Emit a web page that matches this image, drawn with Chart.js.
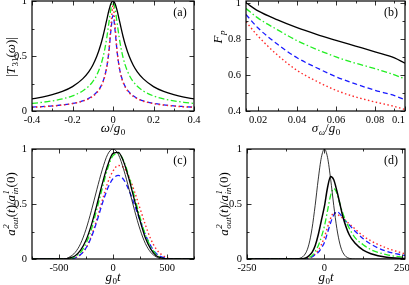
<!DOCTYPE html>
<html>
<head>
<meta charset="utf-8">
<script src="https://cdn.jsdelivr.net/npm/chart.js@4"></script>
<style>
  body { margin: 0; background: #fff; }
  #wrap { position: relative; width: 409px; height: 285px; }
  canvas { position: absolute; left: 0; top: 0; }
</style>
</head>
<body>
<div id="wrap">
  <canvas id="pa" width="409" height="285"></canvas>
  <canvas id="pb" width="409" height="285"></canvas>
  <canvas id="pc" width="409" height="285"></canvas>
  <canvas id="pd" width="409" height="285"></canvas>
</div>
<script>
// (a) |T31(w)| against w/g0
const omega = [-0.4, -0.35, -0.3, -0.25, -0.2, -0.15, -0.12, -0.1, -0.08, -0.06, -0.05, -0.04, -0.03, -0.02, -0.01, 0,
  0.01, 0.02, 0.03, 0.04, 0.05, 0.06, 0.08, 0.1, 0.12, 0.15, 0.2, 0.25, 0.3, 0.35, 0.4];
const tBlack = [0.11, 0.126, 0.148, 0.178, 0.222, 0.292, 0.356, 0.416, 0.497, 0.607, 0.675, 0.753, 0.836, 0.916, 0.977, 1.0,
  0.977, 0.916, 0.836, 0.753, 0.675, 0.607, 0.497, 0.416, 0.356, 0.292, 0.222, 0.178, 0.148, 0.126, 0.11];
const tGreen = [0.069, 0.079, 0.092, 0.110, 0.137, 0.182, 0.225, 0.267, 0.327, 0.419, 0.484, 0.568, 0.675, 0.806, 0.932, 0.99,
  0.932, 0.806, 0.675, 0.568, 0.484, 0.419, 0.327, 0.267, 0.225, 0.182, 0.137, 0.110, 0.092, 0.079, 0.069];
const tBlue = [0.035, 0.040, 0.046, 0.056, 0.069, 0.092, 0.115, 0.138, 0.171, 0.224, 0.265, 0.323, 0.409, 0.544, 0.738, 0.87,
  0.738, 0.544, 0.409, 0.323, 0.265, 0.224, 0.171, 0.138, 0.115, 0.092, 0.069, 0.056, 0.046, 0.040, 0.035];
const tRed = [0.034, 0.038, 0.045, 0.054, 0.067, 0.089, 0.111, 0.133, 0.165, 0.218, 0.259, 0.317, 0.406, 0.550, 0.781, 0.96,
  0.781, 0.550, 0.406, 0.317, 0.259, 0.218, 0.165, 0.133, 0.111, 0.089, 0.067, 0.054, 0.045, 0.038, 0.034];

// (b) Fp against sigma_w/g0 (the frame runs from about 0.014 to 0.095)
const sigma = [0.0138, 0.02, 0.03, 0.04, 0.05, 0.06, 0.07, 0.08, 0.09, 0.0954];
const fBlack = [1.0, 0.955, 0.905, 0.862, 0.825, 0.792, 0.76, 0.728, 0.695, 0.665];
const fGreen = [0.968, 0.915, 0.85, 0.79, 0.742, 0.70, 0.665, 0.635, 0.60, 0.578];
const fBlue = [0.935, 0.86, 0.77, 0.695, 0.64, 0.59, 0.55, 0.515, 0.485, 0.462];
const fRed = [0.895, 0.815, 0.71, 0.625, 0.565, 0.515, 0.478, 0.45, 0.425, 0.408];

// (c) output pulse, long input
const tc = [-750, -450, -400, -350, -300, -250, -200, -150, -100, -50, 0, 50, 100, 150, 200, 250, 300, 350, 400, 450, 500, 550, 750];
const cIn = [0, 0, 0.02, 0.06, 0.14, 0.27, 0.44, 0.63, 0.81, 0.95, 1.0, 0.95, 0.81, 0.63, 0.44, 0.27, 0.14, 0.06, 0.02, 0, 0, 0, 0];
const cBlack = [0, 0, 0.01, 0.03, 0.08, 0.17, 0.31, 0.49, 0.68, 0.85, 0.96, 0.97, 0.88, 0.72, 0.53, 0.35, 0.19, 0.09, 0.03, 0.01, 0, 0, 0];
const cGreen = [0, 0, 0.005, 0.02, 0.06, 0.14, 0.27, 0.45, 0.64, 0.82, 0.94, 0.96, 0.89, 0.74, 0.56, 0.38, 0.22, 0.11, 0.04, 0.01, 0, 0, 0];
const cBlue = [0, 0, 0, 0.01, 0.04, 0.10, 0.20, 0.34, 0.50, 0.64, 0.73, 0.76, 0.72, 0.62, 0.49, 0.35, 0.22, 0.12, 0.05, 0.02, 0.005, 0, 0];
const cRed = [0, 0, 0, 0.01, 0.04, 0.10, 0.21, 0.36, 0.53, 0.69, 0.80, 0.85, 0.83, 0.74, 0.61, 0.46, 0.31, 0.18, 0.09, 0.04, 0.01, 0, 0];

// (d) output pulse, short input
const td = [-250, -100, -80, -60, -50, -40, -30, -20, -10, 0, 10, 20, 30, 40, 50, 60, 80, 100, 125, 150, 200, 260];
const dIn = [0, 0, 0.006, 0.056, 0.135, 0.278, 0.487, 0.726, 0.923, 1.0, 0.923, 0.726, 0.487, 0.278, 0.135, 0.056, 0.006, 0, 0, 0, 0, 0];
const dBlack = [0, 0, 0, 0.01, 0.03, 0.06, 0.12, 0.22, 0.35, 0.48, 0.65, 0.75, 0.72, 0.62, 0.50, 0.38, 0.22, 0.14, 0.08, 0.048, 0.016, 0.004];
const dGreen = [0, 0, 0, 0.005, 0.015, 0.03, 0.07, 0.12, 0.2, 0.3, 0.44, 0.58, 0.64, 0.60, 0.50, 0.41, 0.28, 0.19, 0.13, 0.085, 0.04, 0.013];
const dBlue = [0, 0, 0, 0, 0.01, 0.02, 0.04, 0.06, 0.1, 0.15, 0.24, 0.33, 0.40, 0.43, 0.41, 0.37, 0.31, 0.25, 0.185, 0.135, 0.07, 0.032];
const dRed = [0, 0, 0, 0.005, 0.01, 0.02, 0.045, 0.08, 0.13, 0.2, 0.29, 0.37, 0.42, 0.41, 0.39, 0.37, 0.32, 0.27, 0.21, 0.165, 0.1, 0.047];

const SERIF = "'Liberation Serif', 'DejaVu Serif', serif";
const GREEN = "#22ee22", BLUE = "#1a1aff", RED = "#ff2a2a";

function pts(xs, ys) {
  return xs.map((x, i) => ({ x: x, y: ys[i] }));
}

function line(xs, ys, color, dash, width) {
  return {
    data: pts(xs, ys),
    borderColor: color,
    borderWidth: width,
    borderDash: dash,
    showLine: true,
    pointRadius: 0,
    cubicInterpolationMode: "monotone",
    fill: false
  };
}

// math-like label: parts are {t, it} or {sub, sup, it}
function drawRich(ctx, parts, cx, cy, rot, size) {
  const big = "px " + SERIF, small = Math.round(size * 0.7) + "px " + SERIF;
  const font = (it, s) => (it ? "italic " : "") + s;
  let w = 0;
  parts.forEach(p => {
    if (p.t) { ctx.font = font(p.it, size + big); w += ctx.measureText(p.t).width; }
    else {
      ctx.font = font(p.it, small);
      w += Math.max(p.sub ? ctx.measureText(p.sub).width : 0, p.sup ? ctx.measureText(p.sup).width : 0) + 0.5;
    }
  });
  ctx.save();
  ctx.translate(cx, cy);
  ctx.rotate(rot);
  ctx.fillStyle = "#000";
  ctx.textBaseline = "alphabetic";
  ctx.textAlign = "left";
  let x = -w / 2, base = size * 0.35;
  parts.forEach(p => {
    if (p.t) {
      ctx.font = font(p.it, size + big);
      ctx.fillText(p.t, x, base);
      x += ctx.measureText(p.t).width;
    } else {
      ctx.font = font(p.it, small);
      let ww = 0;
      if (p.sup) { ctx.fillText(p.sup, x + 0.5, base - size * 0.42); ww = ctx.measureText(p.sup).width; }
      if (p.sub) { ctx.fillText(p.sub, x + 0.5, base + size * 0.25); ww = Math.max(ww, ctx.measureText(p.sub).width); }
      x += ww + 0.5;
    }
  });
  ctx.restore();
}

// inward tick marks on all four sides, the frame, titles and panel tag
const framePlugin = {
  id: "frame",
  afterDraw(chart, args, o) {
    const ctx = chart.ctx, a = chart.chartArea;
    const xs = chart.scales.x, ys = chart.scales.y;
    ctx.save();
    ctx.strokeStyle = "#000";
    ctx.lineWidth = 0.8;
    xs.ticks.forEach(t => {
      const px = Math.round(xs.getPixelForValue(t.value)) + 0.5;
      const len = t.label === "" ? 2.5 : 4.5;
      ctx.beginPath();
      ctx.moveTo(px, a.bottom); ctx.lineTo(px, a.bottom - len);
      ctx.moveTo(px, a.top); ctx.lineTo(px, a.top + len);
      ctx.stroke();
    });
    ys.ticks.forEach(t => {
      const py = Math.round(ys.getPixelForValue(t.value)) + 0.5;
      const len = t.label === "" ? 2.5 : 4.5;
      ctx.beginPath();
      ctx.moveTo(a.left, py); ctx.lineTo(a.left + len, py);
      ctx.moveTo(a.right, py); ctx.lineTo(a.right - len, py);
      ctx.stroke();
    });
    ctx.lineWidth = 1.2;
    ctx.strokeRect(a.left, a.top, a.right - a.left, a.bottom - a.top);
    ctx.restore();
    drawRich(ctx, o.ytitle, o.yAt[0], o.yAt[1], -Math.PI / 2, 13);
    drawRich(ctx, o.xtitle, o.xAt[0], o.xAt[1], 0, 13);
    ctx.save();
    ctx.font = "12px " + SERIF;
    ctx.fillStyle = "#000";
    ctx.textAlign = "center";
    ctx.textBaseline = "middle";
    ctx.fillText(o.tag, a.right - 14, a.top + 12);
    ctx.restore();
  }
};

function makePanel(id, box, datasets, xopt, yopt, frame) {
  const yw = 30, xh = 18;
  const fixAxis = (w, h) => s => {
    if (w) s.width = w;
    if (h) s.height = h;
    s.paddingLeft = 0; s.paddingRight = 0; s.paddingTop = 0; s.paddingBottom = 0;
  };
  const tickFont = { family: SERIF, size: 10.5 };
  new Chart(document.getElementById(id), {
    type: "scatter",
    data: { datasets: datasets },
    options: {
      responsive: false,
      animation: false,
      devicePixelRatio: 1,
      layout: { padding: { left: box[0] - yw, top: box[1], right: 409 - box[2], bottom: 285 - box[3] - xh } },
      plugins: { legend: { display: false }, tooltip: { enabled: false }, frame: frame },
      scales: {
        x: {
          type: "linear", min: xopt.min, max: xopt.max,
          grid: { display: false, drawTicks: false },
          border: { display: false },
          afterFit: fixAxis(0, xh),
          afterBuildTicks: s => { s.ticks = xopt.ticks.map(v => ({ value: v })); },
          ticks: {
            color: "#000", font: tickFont, padding: 3, autoSkip: false, maxRotation: 0,
            align: xopt.align || "center",
            callback: v => xopt.labels[xopt.ticks.indexOf(v)]
          }
        },
        y: {
          type: "linear", min: yopt.min, max: yopt.max,
          grid: { display: false, drawTicks: false },
          border: { display: false },
          afterFit: fixAxis(yw, 0),
          afterBuildTicks: s => { s.ticks = yopt.ticks.map(v => ({ value: v })); },
          ticks: {
            color: "#000", font: tickFont, padding: 5, autoSkip: false,
            callback: v => yopt.labels[yopt.ticks.indexOf(v)]
          }
        }
      }
    },
    plugins: [framePlugin]
  });
}

// tick values and labels ("" marks a minor tick)
const aXTicks = [-0.4, -0.3, -0.2, -0.1, 0, 0.1, 0.2, 0.3, 0.4];
const aXLabels = ["-0.4", "", "-0.2", "", "0", "", "0.2", "", "0.4"];
const unitYTicks = [0, 0.25, 0.5, 0.75, 1];
const unitYLabels = ["0", "", "0.5", "", "1"];
const bXTicks = [0.0138, 0.02, 0.03, 0.04, 0.05, 0.06, 0.07, 0.08, 0.09, 0.0954];
const bXLabels = ["", "0.02", "", "0.04", "", "0.06", "", "0.08", "", "0.1"];
const bYTicks = [0.4, 0.5, 0.6, 0.7, 0.8, 0.9, 1];
const bYLabels = ["0.4", "", "0.6", "", "0.8", "", "1"];
const cXTicks = [-750, -500, -250, 0, 250, 500, 750];
const cXLabels = ["", "-500", "", "0", "", "500", ""];
const dXTicks = [-250, -125, 0, 125, 250];
const dXLabels = ["-250", "", "0", "", "250"];

const pulseTitle = [{ t: "a", it: true }, { sup: "2", sub: "out", it: true }, { t: "(" }, { t: "t", it: true }, { t: ")/" },
  { t: "a", it: true }, { sup: "1", sub: "in", it: true }, { t: "(0)" }];
const timeTitle = [{ t: "g", it: true }, { sub: "0" }, { t: "t", it: true }];

makePanel("pa", [32, 1, 194, 111], [
  line(omega, tBlack, "#000", [], 1.3),
  line(omega, tGreen, GREEN, [6, 2.5, 1.5, 2.5], 1.3),
  line(omega, tRed, RED, [1.5, 2.5], 1.4),
  line(omega, tBlue, BLUE, [5, 3], 1.3)
], { min: -0.4, max: 0.4, ticks: aXTicks, labels: aXLabels },
   { min: 0, max: 1, ticks: unitYTicks, labels: unitYLabels },
   { tag: "(a)", ytitle: [{ t: "|" }, { t: "T", it: true }, { sub: "31" }, { t: "(" }, { t: "ω", it: true }, { t: ")|" }], yAt: [10, 57],
     xtitle: [{ t: "ω", it: true }, { t: "/" }, { t: "g", it: true }, { sub: "0" }], xAt: [113, 127] });

makePanel("pb", [246, 1, 405, 111], [
  line(sigma, fBlack, "#000", [], 1.3),
  line(sigma, fGreen, GREEN, [6, 2.5, 1.5, 2.5], 1.3),
  line(sigma, fBlue, BLUE, [5, 3], 1.3),
  line(sigma, fRed, RED, [1.5, 2.5], 1.4)
], { min: 0.0138, max: 0.0954, ticks: bXTicks, labels: bXLabels, align: "inner" },
   { min: 0.4, max: 1.01, ticks: bYTicks, labels: bYLabels },
   { tag: "(b)", ytitle: [{ t: "F", it: true }, { sub: "p", it: true }], yAt: [217, 37],
     xtitle: [{ t: "σ", it: true }, { sub: "ω", it: true }, { t: "/" }, { t: "g", it: true }, { sub: "0" }], xAt: [326, 127] });

makePanel("pc", [32, 149, 194, 259], [
  line(tc, cIn, "#000", [], 0.8),
  line(tc, cBlack, "#000", [], 1.3),
  line(tc, cGreen, GREEN, [6, 2.5, 1.5, 2.5], 1.3),
  line(tc, cBlue, BLUE, [5, 3], 1.3),
  line(tc, cRed, RED, [1.5, 2.5], 1.4)
], { min: -750, max: 750, ticks: cXTicks, labels: cXLabels },
   { min: 0, max: 1, ticks: unitYTicks, labels: unitYLabels },
   { tag: "(c)", ytitle: pulseTitle, yAt: [10, 204], xtitle: timeTitle, xAt: [113, 276] });

makePanel("pd", [247, 149, 405, 259], [
  line(td, dIn, "#000", [], 0.8),
  line(td, dBlack, "#000", [], 1.5),
  line(td, dGreen, GREEN, [6, 2.5, 1.5, 2.5], 1.3),
  line(td, dBlue, BLUE, [5, 3], 1.3),
  line(td, dRed, RED, [1.5, 2.5], 1.4)
], { min: -250, max: 260, ticks: dXTicks, labels: dXLabels },
   { min: 0, max: 1, ticks: unitYTicks, labels: unitYLabels },
   { tag: "(d)", ytitle: pulseTitle, yAt: [223, 204], xtitle: timeTitle, xAt: [326, 276] });
</script>
</body>
</html>
